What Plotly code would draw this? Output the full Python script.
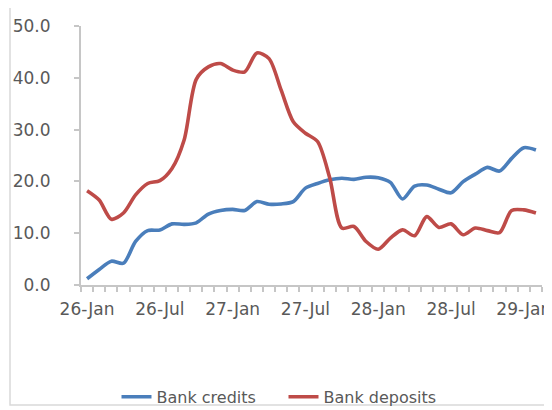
import plotly.graph_objects as go

# Monthly categories (Jan 2026 .. Feb 2029)
months = ["26-Jan","26-Feb","26-Mar","26-Apr","26-May","26-Jun","26-Jul","26-Aug","26-Sep","26-Oct","26-Nov","26-Dec",
          "27-Jan","27-Feb","27-Mar","27-Apr","27-May","27-Jun","27-Jul","27-Aug","27-Sep","27-Oct","27-Nov","27-Dec",
          "28-Jan","28-Feb","28-Mar","28-Apr","28-May","28-Jun","28-Jul","28-Aug","28-Sep","28-Oct","28-Nov","28-Dec",
          "29-Jan","29-Feb"]

bank_credits = [1.2, 3.0, 4.6, 4.2, 8.4, 10.5, 10.6, 11.8, 11.7, 12.0,
                13.7, 14.4, 14.6, 14.4, 16.1, 15.6, 15.65, 16.1, 18.7, 19.6,
                20.3, 20.6, 20.4, 20.8, 20.7, 19.8, 16.6, 19.1, 19.3, 18.5,
                17.8, 19.95, 21.4, 22.7, 22.0, 24.45, 26.5, 26.05]

bank_deposits = [18.2, 16.4, 12.7, 13.9, 17.4, 19.6, 20.15, 22.5, 28.0, 39.7,
                 42.1, 42.75, 41.5, 41.15, 44.8, 43.7, 37.6, 31.5, 29.3, 27.7,
                 20.7, 11.0, 11.3, 8.4, 6.9, 9.05, 10.65, 9.5, 13.2, 11.1,
                 11.8, 9.7, 11.0, 10.5, 10.1, 14.4, 14.5, 13.9]

tick_labels = ["26-Jan", "26-Jul", "27-Jan", "27-Jul", "28-Jan", "28-Jul", "29-Jan"]

idx = list(range(len(months)))
tick_pos = [months.index(t) for t in tick_labels]

FONT = "DejaVu Sans"
GREY_TXT = "#595959"
AXIS = "#c6c6c6"

fig = go.Figure()
fig.add_trace(go.Scatter(x=idx, y=bank_credits, mode="lines", name="Bank credits",
                         line=dict(color="#4A7EBB", width=3.6, shape="spline", smoothing=0.8),
                         customdata=months, hovertemplate="%{customdata}: %{y}<extra></extra>"))
fig.add_trace(go.Scatter(x=idx, y=bank_deposits, mode="lines", name="Bank deposits",
                         line=dict(color="#BE4B48", width=3.6, shape="spline", smoothing=0.8),
                         customdata=months, hovertemplate="%{customdata}: %{y}<extra></extra>"))

# the page body adds an 8 px offset, so the figure is sized to fit the window
fig.update_layout(
    width=544, height=402,
    margin=dict(l=73, r=10, t=18, b=125, autoexpand=False),
    paper_bgcolor="white", plot_bgcolor="white",
    font=dict(family=FONT, size=16, color=GREY_TXT),
    showlegend=True,
    legend=dict(orientation="h", x=0.077, xanchor="left", y=-0.432, yanchor="middle",
                entrywidth=122, entrywidthmode="pixels",
                font=dict(family=FONT, size=16, color=GREY_TXT), bgcolor="rgba(0,0,0,0)"),
    xaxis=dict(range=[-0.5, len(months) - 0.5], showgrid=False, zeroline=False,
               showline=True, linecolor=AXIS, linewidth=2,
               tickmode="array", tickvals=tick_pos, ticktext=tick_labels, ticks="",
               ticklabeloverflow="allow", ticklabelstandoff=8,
               tickfont=dict(family=FONT, size=17, color=GREY_TXT),
               minor=dict(tickmode="array", tickvals=[i - 0.5 for i in range(len(months) + 1)],
                          ticks="outside", ticklen=5, tickcolor=AXIS, tickwidth=1.5, showgrid=False)),
    yaxis=dict(range=[0, 50], dtick=10, tickformat=".1f", showgrid=False, zeroline=False,
               showline=True, linecolor=AXIS, linewidth=2,
               ticks="outside", ticklen=5, tickcolor=AXIS, tickwidth=1.5,
               ticklabelstandoff=20,
               tickfont=dict(family=FONT, size=17, color=GREY_TXT)),
    shapes=[dict(type="rect", xref="paper", yref="paper",
                 x0=-0.154, x1=1.06, y0=-0.463, y1=1.085,
                 line=dict(color="#d9d9d9", width=1.5), fillcolor="rgba(0,0,0,0)", layer="below")],
)

fig.write_html("out.html")
